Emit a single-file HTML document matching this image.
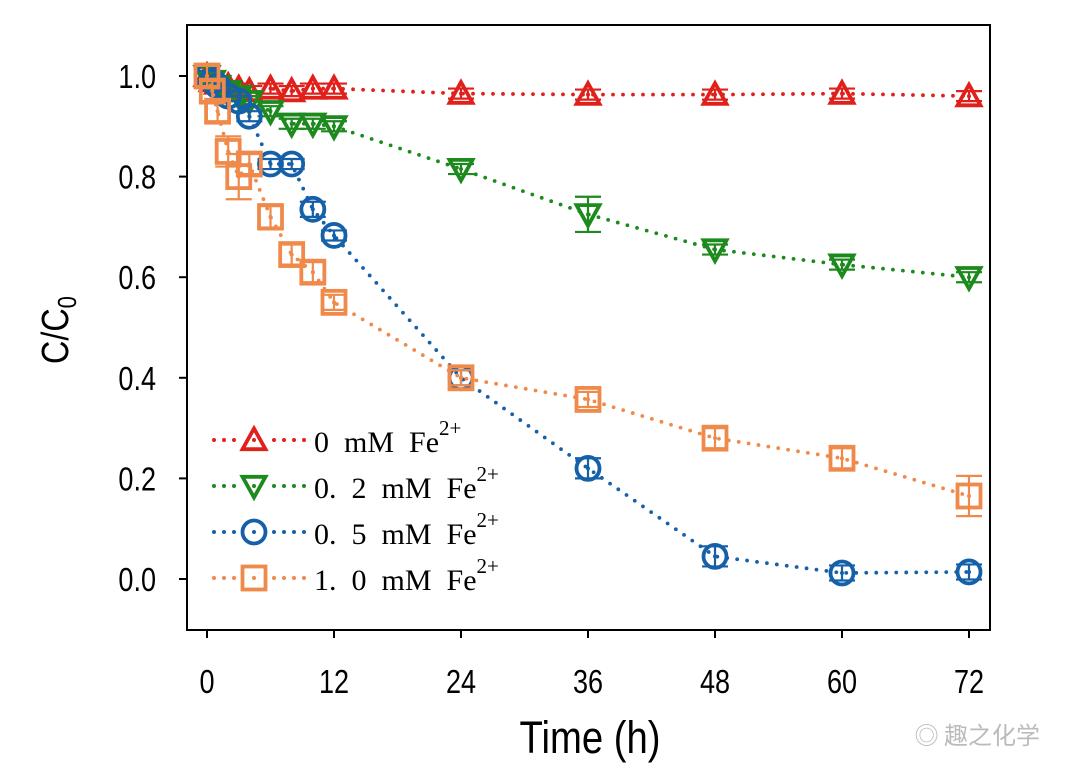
<!DOCTYPE html>
<html><head><meta charset="utf-8"><style>
body{margin:0;background:#fff;}
svg{display:block;}
.ax{font-family:"Liberation Sans",sans-serif;fill:#000;}
.lg{font-family:"Liberation Serif","Noto Serif CJK SC",serif;fill:#000;font-size:30px;}
</style></head><body>
<svg id="chart" width="1080" height="782" viewBox="0 0 1080 782">
<rect x="187" y="25" width="803" height="605" fill="none" stroke="#000" stroke-width="2"/>
<g id="axes"></g>
<g id="series"></g>
<text class="ax" transform="translate(590,753) scale(0.85,1)" font-size="45" text-anchor="middle">Time (h)</text>
<text class="ax" transform="translate(68,330) rotate(-90) scale(0.85,1)" font-size="38" text-anchor="middle">C/C<tspan font-size="26" dy="8">0</tspan></text>
<g id="legend"></g>
<text x="1040" y="744" font-family="Noto Sans CJK SC, sans-serif" font-size="24" fill="#bbb" text-anchor="end">◎ 趣之化学</text>
</svg>
<script>
const hours=[0,0.5,1,2,3,4,6,8,10,12,24,36,48,60,72];
const red=[1.0,0.99,0.985,0.98,0.975,0.97,0.975,0.97,0.975,0.975,0.965,0.963,0.963,0.965,0.96];
const green=[1.0,0.99,0.98,0.97,0.96,0.95,0.93,0.905,0.905,0.9,0.815,0.725,0.655,0.625,0.6];
const blue=[1.0,0.99,0.98,0.96,0.95,0.92,0.825,0.825,0.735,0.683,0.4,0.22,0.045,0.012,0.014];
const orange=[1.0,0.97,0.93,0.85,0.8,0.825,0.72,0.645,0.61,0.55,0.4,0.357,0.28,0.24,0.165];
const redErr=[0.01,0.01,0.01,0.01,0.01,0.01,0.01,0.01,0.01,0.01,0.01,0.01,0.01,0.01,0.01];
const greenErr=[0.01,0.01,0.01,0.01,0.01,0.01,0.01,0.01,0.01,0.01,0.01,0.035,0.01,0.01,0.01];
const blueErr=[0.01,0.01,0.01,0.01,0.01,0.01,0.01,0.01,0.015,0.01,0.015,0.02,0.02,0.015,0.015];
const orangeErr=[0.02,0.02,0.02,0.03,0.045,0.02,0.025,0.02,0.02,0.015,0.015,0.015,0.02,0.02,0.04];
const xTicks=[0,12,24,36,48,60,72];
const yTicks=[0.0,0.2,0.4,0.6,0.8,1.0];
const NS="http://www.w3.org/2000/svg";
const X=h=>207+h*(762/72);
const Y=v=>579-v*503;
function mk(tag,attrs,parent){const e=document.createElementNS(NS,tag);for(const k in attrs)e.setAttribute(k,attrs[k]);parent.appendChild(e);return e;}
const axes=document.getElementById('axes');
xTicks.forEach(t=>{
 const l=mk('line',{x1:X(t),x2:X(t),y1:630,y2:638,stroke:'#000','stroke-width':2},axes);
 
 
 const tx=mk('text',{transform:`translate(${X(t)},693) scale(0.82,1)`,'font-size':33,'text-anchor':'middle',class:'ax'},axes);tx.textContent=t;
 
 
});
yTicks.forEach(t=>{
 const l=mk('line',{x1:179,x2:187,y1:Y(t),y2:Y(t),stroke:'#000','stroke-width':2},axes);
 
 
 const tx=mk('text',{transform:`translate(156,${Y(t)+12}) scale(0.82,1)`,'font-size':33,'text-anchor':'end',class:'ax'},axes);tx.textContent=t.toFixed(1);
 
 
});
function marker(type,cx,cy,col,g){
 const s=11.5,sw=3.8;
 if(type==='up')mk('polygon',{points:`${cx},${cy-s} ${cx-s},${cy+s*0.8} ${cx+s},${cy+s*0.8}`,fill:'none',stroke:col,'stroke-width':sw},g);
 if(type==='down')mk('polygon',{points:`${cx},${cy+s} ${cx-s},${cy-s*0.8} ${cx+s},${cy-s*0.8}`,fill:'none',stroke:col,'stroke-width':sw},g);
 if(type==='circle')mk('circle',{cx:cx,cy:cy,r:s,fill:'none',stroke:col,'stroke-width':sw},g);
 if(type==='square')mk('rect',{x:cx-s,y:cy-s,width:2*s,height:2*s,fill:'none',stroke:col,'stroke-width':sw},g);
 mk('circle',{cx:cx,cy:cy,r:2,fill:col},g);
}
const seriesDefs=[
 {name:'series-0mM',vals:red,err:redErr,col:'#e0201b',type:'up'},
 {name:'series-0.2mM',vals:green,err:greenErr,col:'#1c8a1c',type:'down'},
 {name:'series-0.5mM',vals:blue,err:blueErr,col:'#1560a8',type:'circle'},
 {name:'series-1.0mM',vals:orange,err:orangeErr,col:'#ef8a4a',type:'square'}];
const sg=document.getElementById('series');
seriesDefs.forEach(s=>{
 const g=mk('g',{},sg);
 
 
 const pts=hours.map((h,i)=>`${X(h)},${Y(s.vals[i])}`).join(' ');
 const pl=mk('polyline',{points:pts,fill:'none',stroke:s.col,'stroke-width':3.8,'stroke-dasharray':'0 10','stroke-linecap':'round'},g);
 
 
 hours.forEach((h,i)=>{
  const cx=X(h),cy=Y(s.vals[i]),e=s.err[i]*503;
  const pg=mk('g',{},g);
  
  
  mk('line',{x1:cx,x2:cx,y1:cy-e,y2:cy+e,stroke:s.col,'stroke-width':2.2},pg);
  mk('line',{x1:cx-13,x2:cx+13,y1:cy-e,y2:cy-e,stroke:s.col,'stroke-width':2.2},pg);
  mk('line',{x1:cx-13,x2:cx+13,y1:cy+e,y2:cy+e,stroke:s.col,'stroke-width':2.2},pg);
  marker(s.type,cx,cy,s.col,pg);
 });
});
const labels=['0 mM Fe','0. 2 mM Fe','0. 5 mM Fe','1. 0 mM Fe'];
const lg=document.getElementById('legend');
const rowsY=[440,486,532,578];
seriesDefs.forEach((s,i)=>{
 const g=mk('g',{},lg);
 
 
 const y=rowsY[i];
 mk('line',{x1:214,x2:310,y1:y,y2:y,stroke:s.col,'stroke-width':4,'stroke-dasharray':'0 10','stroke-linecap':'round'},g);
 mk('rect',{x:240,y:y-14,width:28,height:28,fill:'#fff'},g);
 marker(s.type,254,y,s.col,g);
 const t=mk('text',{x:314,y:y+12,class:'lg','xml:space':'preserve'},g);
 t.textContent=labels[i].replace(/ /g,'\u00a0\u00a0');
 const sup=mk('tspan',{dy:-17,'font-size':21},t);sup.textContent='2+';
});
</script>
</body></html>
